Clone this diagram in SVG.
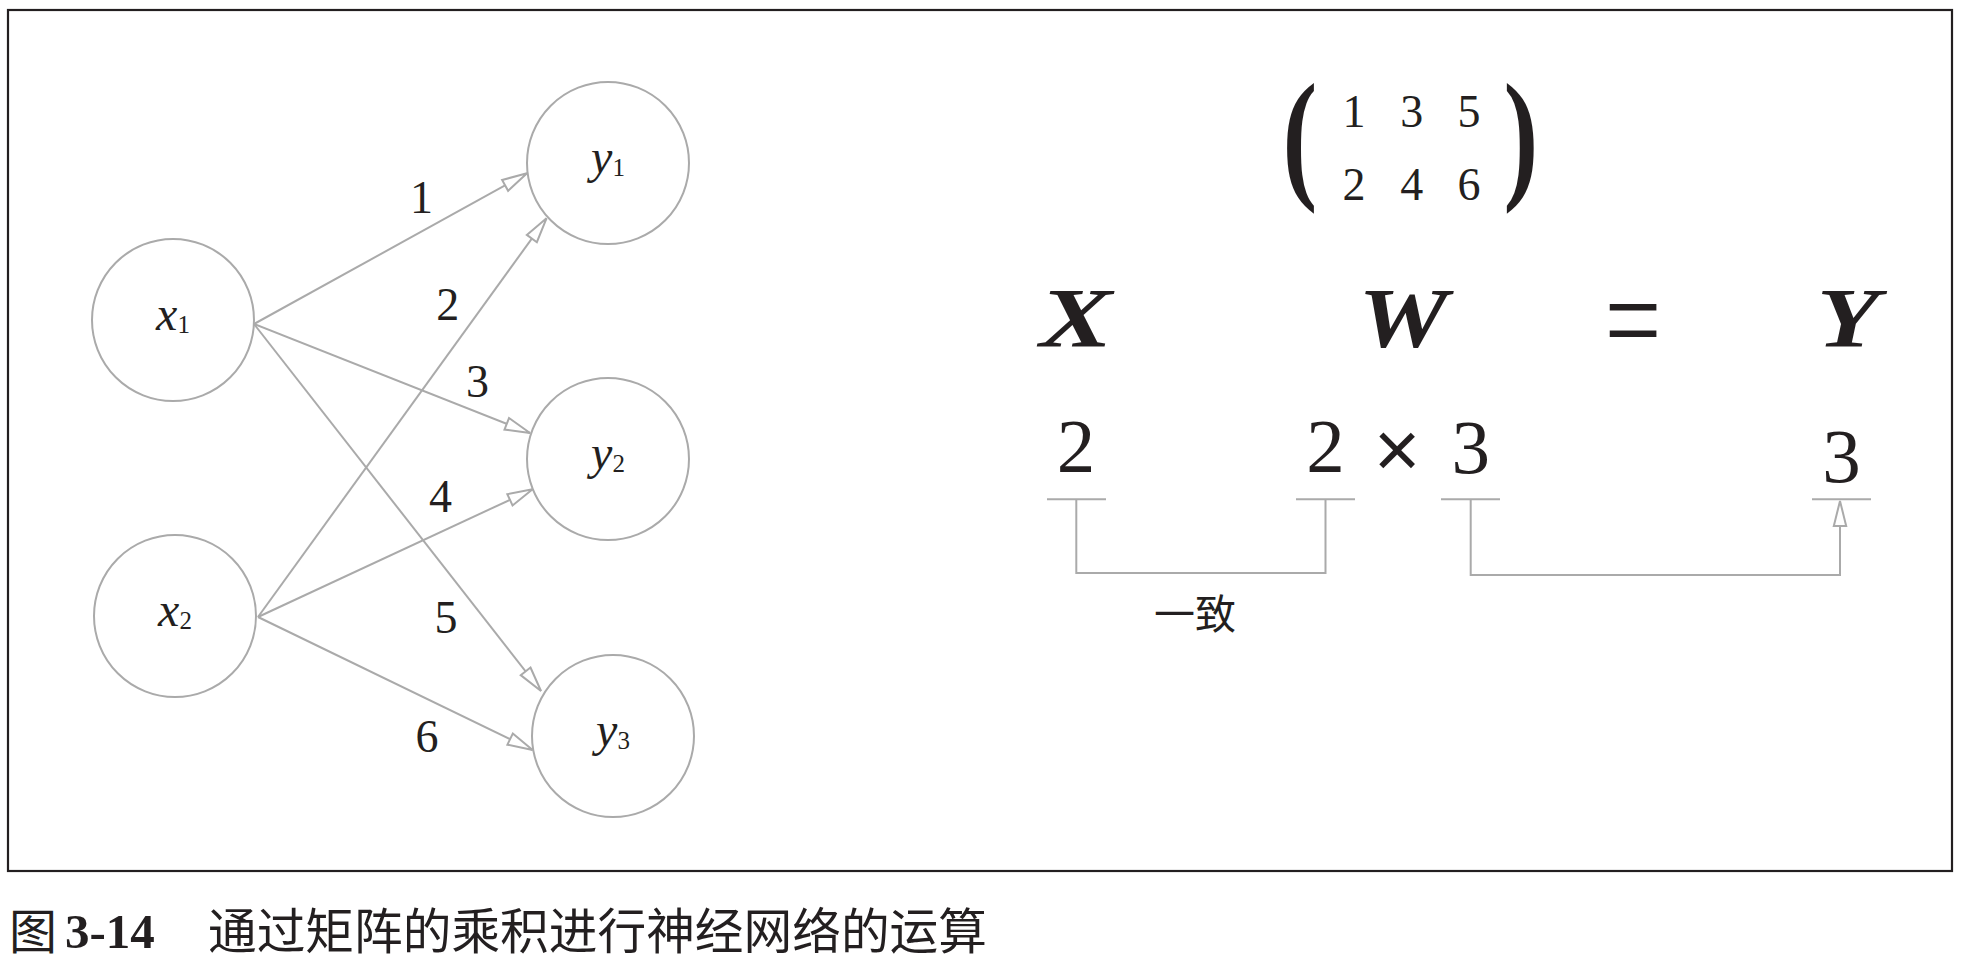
<svg xmlns="http://www.w3.org/2000/svg" width="1963" height="967" viewBox="0 0 1963 967">
<style>
.node{fill:none;stroke:#aaaaaa;stroke-width:2}
.nl{font-family:"Liberation Serif","DejaVu Serif",serif;font-size:48px;fill:#231f20;text-anchor:middle}
.nl .v{font-style:italic}
.nl .s{font-size:25px}
.edge{fill:none;stroke:#aaaaaa;stroke-width:2}
.el{font-family:"Liberation Serif","DejaVu Serif",serif;font-size:46px;fill:#231f20;text-anchor:middle}
.big{font-family:"Liberation Serif","DejaVu Serif",serif;font-size:77px;fill:#231f20;text-anchor:middle}
.bi{font-family:"Liberation Serif","DejaVu Serif",serif;font-size:84px;font-weight:bold;font-style:italic;fill:#231f20;text-anchor:middle}
.cjk{font-family:"Noto Sans CJK SC","Noto Sans CJK JP",sans-serif;fill:#231f20}
</style>
<defs>
<marker id="ah" markerUnits="userSpaceOnUse" viewBox="-2 -2 30 18" markerWidth="30" markerHeight="18" refX="25" refY="7" orient="auto">
<path d="M0,0.8 L25,7 L0,13.2 Z" fill="#ffffff" stroke="#aaaaaa" stroke-width="2" stroke-linejoin="miter"/>
</marker>
</defs>
<rect x="8" y="10" width="1944" height="861" fill="#ffffff" stroke="#231f20" stroke-width="2.2"/>

<g id="connectors">
<line class="edge" x1="254" y1="324" x2="527" y2="173.3" marker-end="url(#ah)"/>
<line class="edge" x1="254" y1="324" x2="530" y2="433" marker-end="url(#ah)"/>
<line class="edge" x1="254" y1="324" x2="541" y2="691" marker-end="url(#ah)"/>
<line class="edge" x1="258" y1="617" x2="546.5" y2="218.3" marker-end="url(#ah)"/>
<line class="edge" x1="258" y1="617" x2="532.6" y2="489.3" marker-end="url(#ah)"/>
<line class="edge" x1="258" y1="617" x2="532.6" y2="750" marker-end="url(#ah)"/>
<line class="edge" x1="1047" y1="499.3" x2="1106" y2="499.3"/>
<line class="edge" x1="1296" y1="499.3" x2="1355" y2="499.3"/>
<line class="edge" x1="1441" y1="499.3" x2="1500" y2="499.3"/>
<line class="edge" x1="1812" y1="499.3" x2="1871" y2="499.3"/>
<path class="edge" d="M1076.3,499.3 V573 H1325.5 V499.3"/>
<path class="edge" d="M1470.7,499.3 V575 H1840 V501" marker-end="url(#ah)"/>
</g>

<g id="x1">
<circle class="node" cx="173" cy="320" r="81"/>
<text class="nl" x="173" y="329.5"><tspan class="v">x</tspan><tspan class="s" dy="3.5">1</tspan></text>
</g>
<g id="x2">
<circle class="node" cx="175" cy="616" r="81"/>
<text class="nl" x="175" y="625.5"><tspan class="v">x</tspan><tspan class="s" dy="3.5">2</tspan></text>
</g>
<g id="y1">
<circle class="node" cx="608" cy="163" r="81"/>
<text class="nl" x="608" y="172.5"><tspan class="v">y</tspan><tspan class="s" dy="3.5">1</tspan></text>
</g>
<g id="y2">
<circle class="node" cx="608" cy="459" r="81"/>
<text class="nl" x="608" y="468.5"><tspan class="v">y</tspan><tspan class="s" dy="3.5">2</tspan></text>
</g>
<g id="y3">
<circle class="node" cx="613" cy="736" r="81"/>
<text class="nl" x="613" y="745.5"><tspan class="v">y</tspan><tspan class="s" dy="3.5">3</tspan></text>
</g>

<g id="edge-labels">
<text class="el" x="421.5" y="213">1</text>
<text class="el" x="447.7" y="320">2</text>
<text class="el" x="477.6" y="397">3</text>
<text class="el" x="440.6" y="512">4</text>
<text class="el" x="446" y="633">5</text>
<text class="el" x="427" y="752">6</text>
</g>

<g id="matrix">
<text transform="translate(1300,182.5) scale(0.72,1)" font-family="Liberation Serif, serif" font-weight="bold" font-size="145" fill="#231f20" text-anchor="middle">(</text>
<text transform="translate(1521,182.5) scale(0.72,1)" font-family="Liberation Serif, serif" font-weight="bold" font-size="145" fill="#231f20" text-anchor="middle">)</text>
<text class="el" x="1354" y="127">1</text>
<text class="el" x="1411.7" y="127">3</text>
<text class="el" x="1469" y="127">5</text>
<text class="el" x="1354" y="200">2</text>
<text class="el" x="1411.7" y="200">4</text>
<text class="el" x="1469" y="200">6</text>
</g>

<g id="equation">
<text class="bi" transform="translate(1076,347) scale(1.3,1)">X</text>
<text class="bi" transform="translate(1403,347) scale(1.2,1)">W</text>
<text transform="translate(1633,364) scale(0.76,1)" font-family="Liberation Serif, serif" font-size="132" fill="#231f20" text-anchor="middle">=</text>
<text class="bi" transform="translate(1848,347) scale(1.22,1)">Y</text>
<text class="big" x="1076" y="472">2</text>
<text class="big" x="1325.5" y="472">2</text>
<text x="1397" y="477" font-family="Liberation Sans, sans-serif" font-size="80" fill="#231f20" text-anchor="middle">×</text>
<text class="big" x="1470.7" y="473">3</text>
<text class="big" x="1841.5" y="482">3</text>
<text class="cjk" x="1195" y="629" font-size="41" text-anchor="middle">一致</text>
</g>

<g id="caption">
<text class="cjk" x="9" y="949" font-size="48">图</text>
<text x="65" y="948" font-family="Liberation Serif, serif" font-weight="bold" font-size="49" fill="#231f20">3-14</text>
<text class="cjk" x="208" y="949" font-size="48.7">通过矩阵的乘积进行神经网络的运算</text>
</g>
</svg>
